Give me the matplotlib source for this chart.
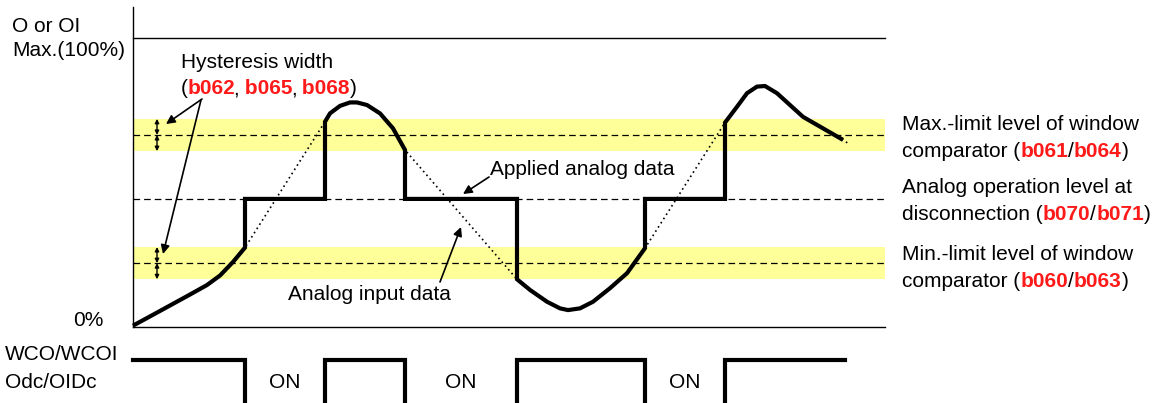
import matplotlib
matplotlib.use("Agg")
import matplotlib.pyplot as plt

# ---------------- data ----------------
# time axis (arbitrary units) and analog levels in percent of max
input_time = [133, 150, 170, 190, 207, 220, 233, 245,
              325, 330, 340, 350, 357, 367, 380, 393, 405,
              517, 530, 547, 560, 568, 580, 593, 610, 627, 645,
              725, 737, 747, 757, 765, 777, 790, 803, 820, 843, 848]
input_level = [0.3, 3.5, 7.3, 11.1, 14.4, 17.7, 22.4, 27.4,
               71.1, 74.0, 76.6, 77.8, 77.8, 76.9, 74.0, 68.8, 61.3,
               16.4, 12.7, 8.6, 6.3, 5.7, 6.3, 8.6, 13.3, 18.5, 27.2,
               70.8, 76.3, 81.0, 83.3, 83.5, 81.0, 76.9, 72.8, 69.4, 64.8, 63.6]

applied_time = [133, 150, 170, 190, 207, 220, 233, 245, 245, 325,
                325, 330, 340, 350, 357, 367, 380, 393, 405, 405, 517,
                517, 530, 547, 560, 568, 580, 593, 610, 627, 645, 645, 725,
                725, 737, 747, 757, 765, 777, 790, 803, 820, 843]
applied_level = [0.3, 3.5, 7.3, 11.1, 14.4, 17.7, 22.4, 27.4, 44.3, 44.3,
                 71.1, 74.0, 76.6, 77.8, 77.8, 76.9, 74.0, 68.8, 61.3, 44.3, 44.3,
                 16.4, 12.7, 8.6, 6.3, 5.7, 6.3, 8.6, 13.3, 18.5, 27.2, 44.3, 44.3,
                 70.8, 76.3, 81.0, 83.3, 83.5, 81.0, 76.9, 72.8, 69.4, 64.8]

max_limit = 66.5          # b061/b064
min_limit = 22.0          # b060/b063
hysteresis = 5.6          # b062/b065/b068
disconnect_level = 44.3   # b070/b071

out_time = [133, 245, 245, 325, 325, 405, 405, 517, 517, 645, 645, 725, 725, 845]
out_state = [1, 1, 0, 0, 1, 1, 0, 0, 1, 1, 0, 0, 1, 1]
on_label_time = [285, 461, 685]

t_start, t_end = 133, 885

# ---------------- layout helpers ----------------
W, H = 1156, 403
BASE, TOP = 326.5, 38.5
SCALE = (BASE - TOP) / 100.0


def py(p):
    """pixel row -> level (%)"""
    return (BASE - p) / SCALE


FONT = "Liberation Sans"
FS = 15
RED = "#ff1a1a"

fig = plt.figure(figsize=(W / 100, H / 100), dpi=100)
ax = fig.add_axes([0, 0, 1, 1])
ax.set_xlim(0, W)
ax.set_ylim(py(H), py(0))
ax.axis("off")

# yellow hysteresis bands
for lvl in (max_limit, min_limit):
    ax.fill_between([t_start, t_end], lvl - hysteresis, lvl + hysteresis,
                    color="#ffff99", lw=0, zorder=0)

# axes lines
ax.plot([t_start, t_start], [py(7.5), 0], color="black", lw=1.0, zorder=2)
ax.plot([t_start, t_end], [0, 0], color="black", lw=1.0, zorder=2)
ax.plot([t_start, t_end], [100, 100], color="black", lw=1.0, zorder=2)

# dashed levels
for lvl in (max_limit, disconnect_level, min_limit):
    ax.plot([t_start, t_end], [lvl, lvl], color="black", lw=0.9,
            linestyle=(0, (5.3, 3.2)), zorder=1)

# analog input (dotted) and applied (thick)
ax.plot(input_time, input_level, color="black", lw=1.2, linestyle=(0, (1, 2)), zorder=3)
ax.plot(applied_time, applied_level, color="black", lw=3.0, solid_joinstyle="miter",
        solid_capstyle="butt", zorder=4)

# output signal
hi, lo = py(360), py(420)
out_level = [hi if s else lo for s in out_state]
ax.plot(out_time, out_level, color="black", lw=3.0, solid_joinstyle="miter", zorder=4)
for t in on_label_time:
    ax.text(t, py(382), "ON", fontsize=FS, family=FONT, ha="center", va="center")

# hysteresis small double arrows
for lvl in (max_limit, min_limit):
    for a, b in ((lvl + hysteresis, lvl), (lvl, lvl - hysteresis)):
        ax.annotate("", xy=(157, b), xytext=(157, a),
                    arrowprops=dict(arrowstyle="<|-|>", lw=1.0, color="black",
                                    mutation_scale=6, shrinkA=0, shrinkB=0), zorder=5)

arrow_kw = dict(arrowstyle="-|>", lw=1.2, color="black", mutation_scale=13,
                shrinkA=0, shrinkB=0)
ax.annotate("", xy=(166, py(124)), xytext=(202, py(99)), arrowprops=arrow_kw)
ax.annotate("", xy=(163, py(254)), xytext=(201, py(100)), arrowprops=arrow_kw)
ax.annotate("", xy=(463, py(194)), xytext=(489, py(177)), arrowprops=arrow_kw)
ax.annotate("", xy=(461, py(227)), xytext=(440, py(282)), arrowprops=arrow_kw)


def rich(x, y, parts):
    t = ax.text(x, y, parts[0][0], color=parts[0][1], fontsize=FS, family=FONT,
                fontweight="bold" if parts[0][1] == RED else "normal",
                ha="left", va="center")
    for s, c, dx in parts[1:]:
        t = ax.annotate(s, xy=(1, 0), xycoords=t, xytext=(dx, 0), textcoords="offset points",
                        ha="left", va="bottom", color=c, fontsize=FS, family=FONT,
                        fontweight="bold" if c == RED else "normal")
    return t


K = "black"
# left labels
ax.text(12, py(27), "O or OI", fontsize=FS, family=FONT, va="center", ha="left")
ax.text(12, py(50), "Max.(100%)", fontsize=FS, family=FONT, va="center", ha="left")
ax.text(104, py(321), "0%", fontsize=FS, family=FONT, va="center", ha="right")
ax.text(5, py(355), "WCO/WCOI", fontsize=FS, family=FONT, va="center", ha="left")
ax.text(5, py(382), "Odc/OIDc", fontsize=FS, family=FONT, va="center", ha="left")

# hysteresis text
ax.text(181, py(63), "Hysteresis width", fontsize=FS, family=FONT, va="center", ha="left")
rich(181, py(89), [("(", K), ("b062", RED, 0), (",", K, -1.5), (" b065", RED, 0),
                   (",", K, -1.5), (" b068", RED, 0), (")", K, 0)])

# curve labels
ax.text(490, py(170), "Applied analog data", fontsize=FS, family=FONT, va="center", ha="left")
ax.text(288, py(294), "Analog input data", fontsize=FS, family=FONT, va="center", ha="left")

# right labels
RX = 902
ax.text(RX, py(125), "Max.-limit level of window", fontsize=FS, family=FONT, va="center", ha="left")
rich(RX, py(151.5), [("comparator (", K), ("b061", RED, 0), ("/", K, 0), ("b064", RED, 0), (")", K, 0)])
ax.text(RX, py(188), "Analog operation level at", fontsize=FS, family=FONT, va="center", ha="left")
rich(RX, py(215), [("disconnection (", K), ("b070", RED, 0), ("/", K, 0), ("b071", RED, 0), (")", K, 0)])
ax.text(RX, py(255), "Min.-limit level of window", fontsize=FS, family=FONT, va="center", ha="left")
rich(RX, py(281.5), [("comparator (", K), ("b060", RED, 0), ("/", K, 0), ("b063", RED, 0), (")", K, 0)])

fig.savefig("out.png", dpi=100)
